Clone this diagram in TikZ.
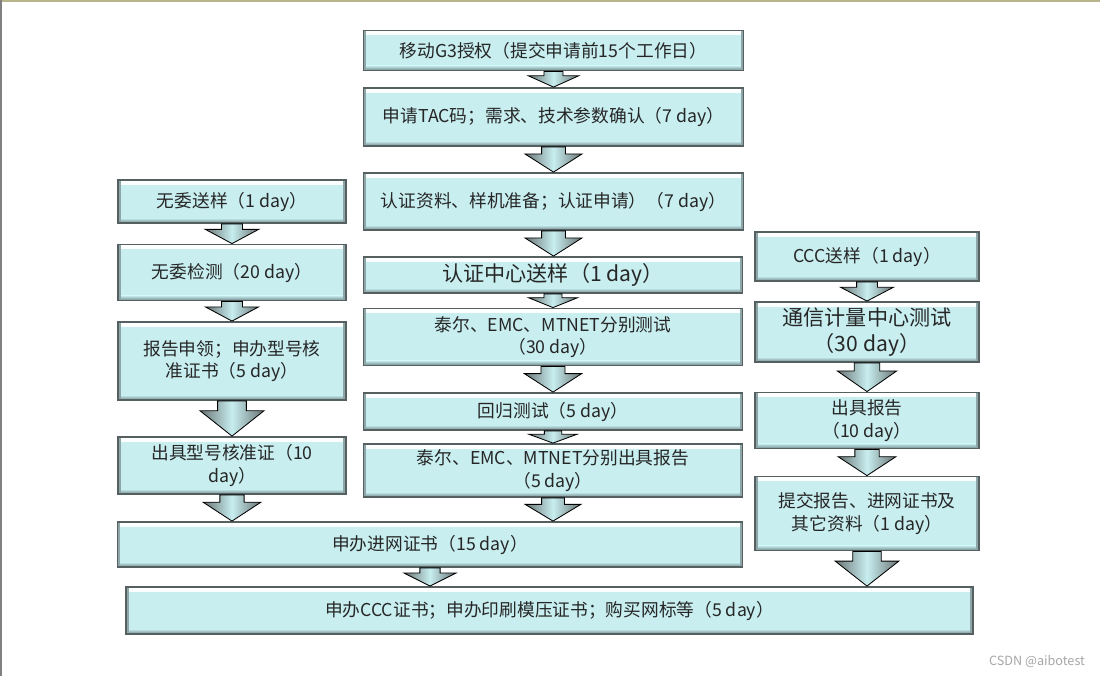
\documentclass[tikz,border=0pt]{standalone}
\usepackage{fontspec}
\setmainfont{Noto Sans CJK SC}
\usetikzlibrary{calc}
\definecolor{boxfill}{HTML}{C8EEF0}
\definecolor{boxedge}{HTML}{566060}
\definecolor{boxtext}{HTML}{262626}
\definecolor{bevelside}{HTML}{8FA6A8}
\definecolor{beveldark}{HTML}{6E8688}
\definecolor{arrowedge}{HTML}{6A7474}
\definecolor{topline}{HTML}{B8B48C}
\newdimen\pxu \pxu=0.025cm
\newcommand\stepfont{\fontsize{12.6}{16}\selectfont}
\newcommand\bigstepfont{\fontsize{15}{19}\selectfont}
\tikzset{
  stepbox/.style 2 args={draw=boxedge, line width=1.3pt, fill=boxfill,
    minimum width={#1*\pxu}, minimum height={#2*\pxu}, inner sep=0pt,
    align=center, text=boxtext, font=\stepfont,
    path picture={
      \shade[top color=white, bottom color=boxfill]
        (path picture bounding box.north west) rectangle ([yshift=-3pt]path picture bounding box.north east);
      \shade[top color=boxfill, bottom color=beveldark]
        ([yshift=3.5pt]path picture bounding box.south west) rectangle (path picture bounding box.south east);
      \fill[bevelside] (path picture bounding box.south west) rectangle ([xshift=2pt]path picture bounding box.north west);
      \fill[bevelside] ([xshift=-2pt]path picture bounding box.south east) rectangle (path picture bounding box.north east);
    }},
  arrowbody/.style={draw=black, line width=0.6pt, left color=arrowedge, right color=arrowedge, middle color=boxfill},
}
% block arrow from the bottom of #1 down to the top of #2
\newcommand\flowarrow[2]{%
  \path[arrowbody] let \p1=(#1.south), \p2=(#1.south |- #2.north),
      \n1={\y1-\y2}, \n2={0.25*\n1+4pt}, \n3={0.35*\n1+14pt}, \n4={\y2+0.72*\n1} in
    ({\x1-\n2},\y1) -- ({\x1-\n2},\n4) -- ({\x1-\n3},\n4) -- (\x1,\y2)
    -- ({\x1+\n3},\n4) -- ({\x1+\n2},\n4) -- ({\x1+\n2},\y1) -- cycle;}
\begin{document}
\begin{tikzpicture}[x=0.025cm,y=-0.025cm]
\useasboundingbox (0,0) rectangle (1100,676);
\draw[topline, line width=1.5pt] (0,0.5) -- (1100,0.5);
\draw[gray, line width=1.5pt] (0.5,0) -- (0.5,676);

% middle column
\node[stepbox={380}{40}] (b1) at (553.5,50.5) {移动G3授权（提交申请前15个工作日）};
\node[stepbox={380}{58}] (b2) at (553.5,117) {申请TAC码；需求、技术参数确认（7 day）};
\node[stepbox={380}{57}] (b3) at (553.5,201.5) {认证资料、样机准备；认证申请）（7 day）};
\node[stepbox={379}{36}, font=\bigstepfont] (b4) at (553,275) {认证中心送样（1 day）};
\node[stepbox={379}{57}] (b5) at (553,337) {泰尔、EMC、MTNET分别测试\\（30 day）};
\node[stepbox={379}{37}] (b6) at (553,411.5) {回归测试（5 day）};
\node[stepbox={379}{53}] (b7) at (553,470.5) {泰尔、EMC、MTNET分别出具报告\\（5 day）};

% left column
\node[stepbox={228}{43}] (l1) at (232,201.5) {无委送样（1 day）};
\node[stepbox={228}{56}] (l2) at (232,272.5) {无委检测（20 day）};
\node[stepbox={228}{78}] (l3) at (232,361) {报告申领；申办型号核\\准证书（5 day）};
\node[stepbox={228}{57}] (l4) at (232,465.5) {出具型号核准证（10\\day）};

% right column
\node[stepbox={224}{49}] (r1) at (867,256.5) {CCC送样（1 day）};
\node[stepbox={224}{60}, font=\bigstepfont] (r2) at (867,332) {通信计量中心测试\\（30 day）};
\node[stepbox={224}{56}] (r3) at (867,420.5) {出具报告\\（10 day）};
\node[stepbox={224}{74}] (r4) at (867,513.5) {提交报告、进网证书及\\其它资料（1 day）};

% bottom rows
\node[stepbox={625}{45}] (w1) at (430,544.5) {申办进网证书（15 day）};
\node[stepbox={847}{47}] (bt) at (549.5,610.5) {申办CCC证书；申办印刷模压证书；购买网标等（5 day）};

\flowarrow{b1}{b2}
\flowarrow{b2}{b3}
\flowarrow{b3}{b4}
\flowarrow{b4}{b5}
\flowarrow{b5}{b6}
\flowarrow{b6}{b7}
\flowarrow{b7}{w1}
\flowarrow{l1}{l2}
\flowarrow{l2}{l3}
\flowarrow{l3}{l4}
\flowarrow{l4}{w1}
\flowarrow{r1}{r2}
\flowarrow{r2}{r3}
\flowarrow{r3}{r4}
\flowarrow{r4}{bt}
\flowarrow{w1}{bt}

\node[text=gray!70, font=\fontsize{9}{10}\selectfont] (mark) at (1037,662) {CSDN @aibotest};
\end{tikzpicture}
\end{document}
